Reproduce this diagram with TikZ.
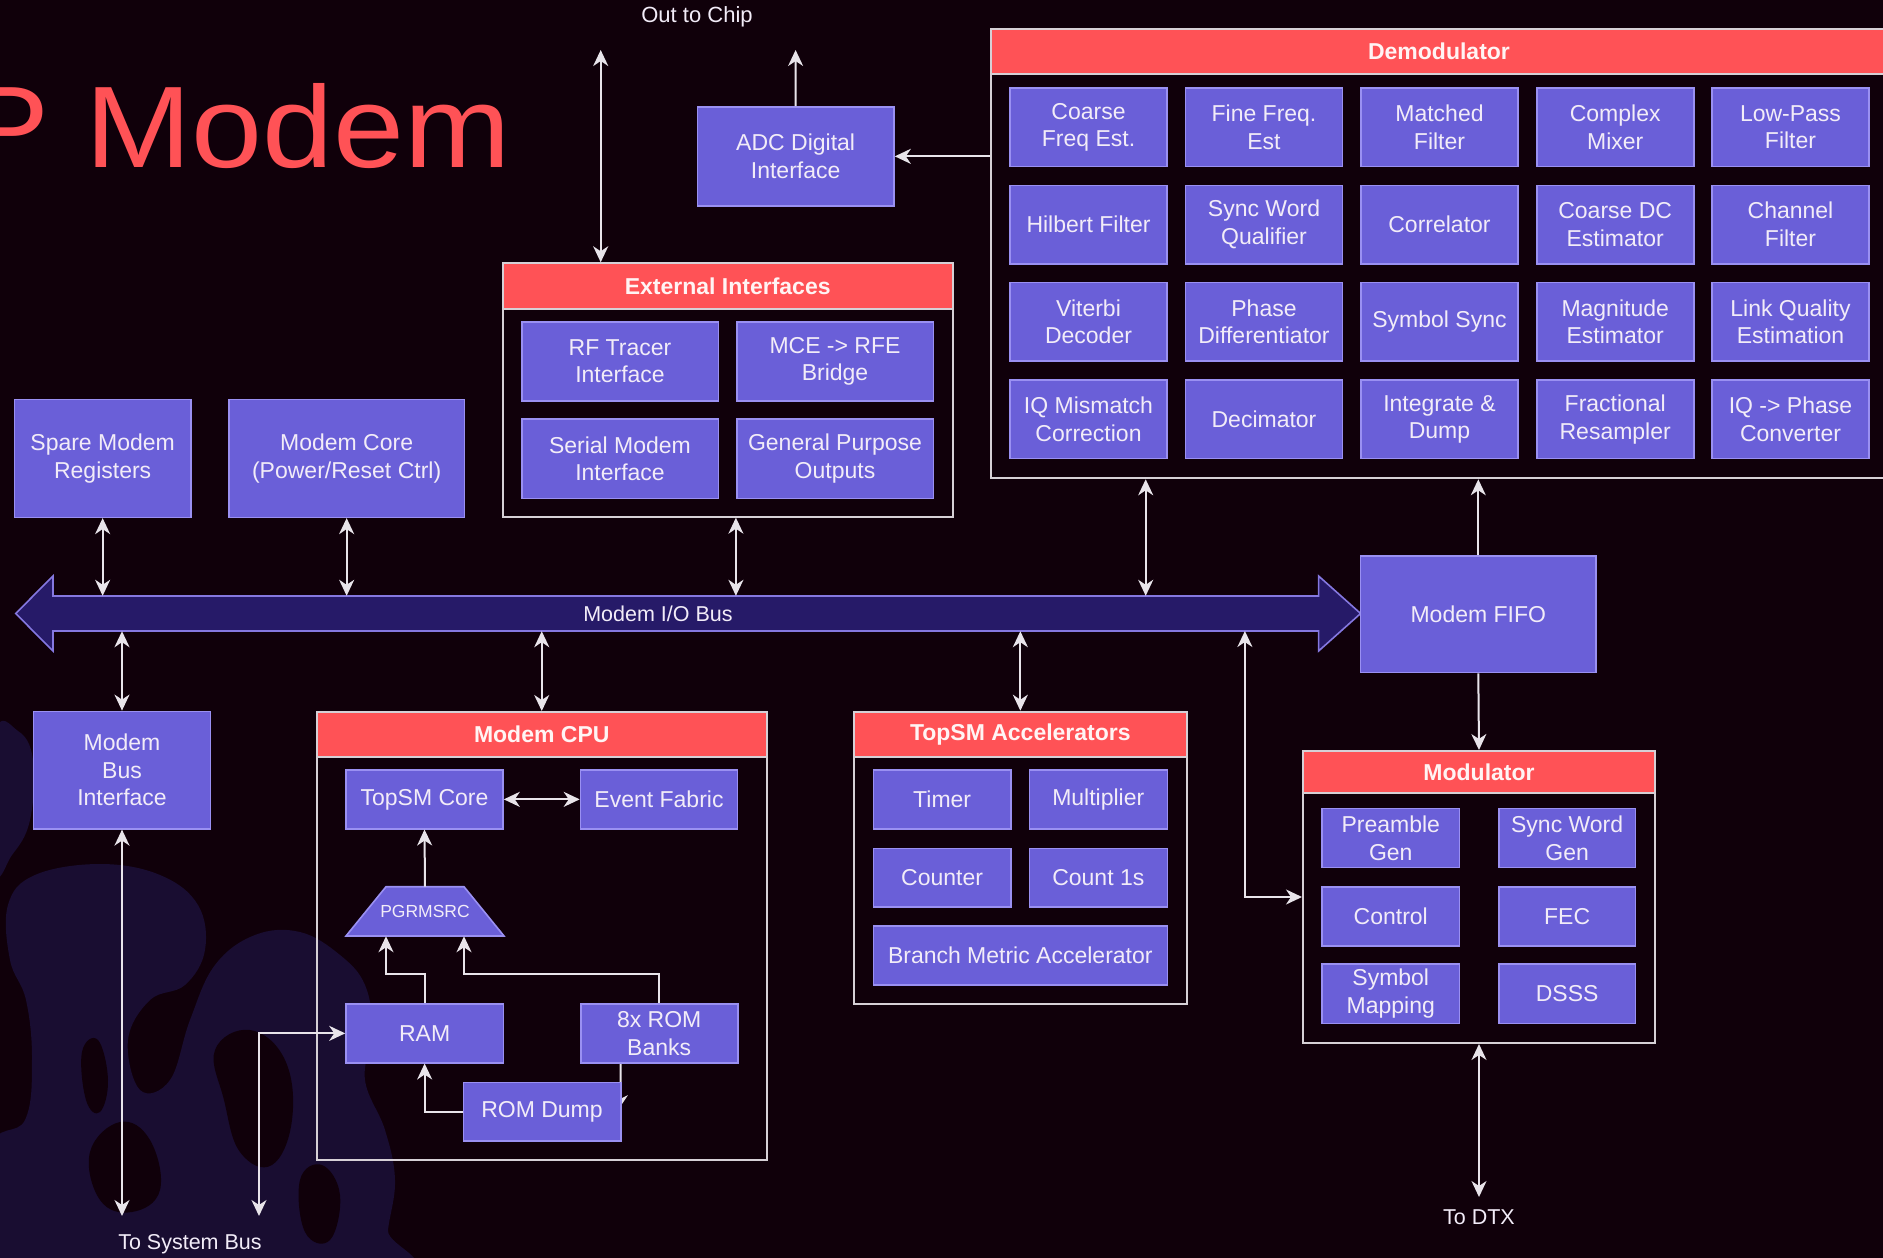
\documentclass[tikz,border=0pt]{standalone}
\usepackage{fontspec}
\setmainfont{Liberation Sans}
\usetikzlibrary{arrows.meta,calc}

\definecolor{bgc}{HTML}{10000A}
\definecolor{blobc}{HTML}{190D31}
\definecolor{boxfill}{HTML}{6A5FD8}
\definecolor{boxline}{HTML}{9A90F2}
\definecolor{txt}{HTML}{F2ECF8}
\definecolor{hdrtxt}{HTML}{FFF4F4}
\definecolor{redc}{HTML}{FF5256}
\definecolor{contline}{HTML}{D6D0D6}
\definecolor{linec}{HTML}{E8E4EA}
\definecolor{busfill}{HTML}{261A68}
\definecolor{busline}{HTML}{8578E0}

\newcommand\bfnt{\fontsize{23}{27.6}\selectfont}
\newcommand\hfnt{\fontsize{23}{27.6}\selectfont\bfseries}
\newcommand\lfnt{\fontsize{21.5}{26}\selectfont}
\newcommand\sfnt{\fontsize{17.5}{21}\selectfont}

% block given by its corners: name, x1, y1, x2, y2, text
\newcommand\blk[6]{\node[blk,minimum width={#4-#2},minimum height={#5-#3}] (#1) at ({(#2+#4)/2},{(#3+#5)/2}) {#6};}
% titled container: name, x1, y1, x2, y2, header bottom, title
\newcommand\cont[7]{%
  \node[contbox,minimum width={#4-#2},minimum height={#5-#3}] (#1) at ({(#2+#4)/2},{(#3+#5)/2}) {};%
  \node[hdr,minimum width={#4-#2},minimum height={#6-#3}] (#1h) at ({(#2+#4)/2},{(#3+#6)/2}) {#7};}

\pgfdeclarelayer{back}
\pgfdeclarelayer{under}
\pgfsetlayers{back,under,main}

\tikzset{
  blk/.style={draw=boxline, fill=boxfill, line width=1.6pt, text=txt, align=center, font=\bfnt, inner sep=0pt},
  contbox/.style={draw=contline, line width=2pt, inner sep=0pt},
  hdr/.style={draw=contline, fill=redc, line width=2pt, text=hdrtxt, font=\hfnt, inner sep=0pt},
  lbl/.style={text=txt, font=\lfnt, inner sep=0pt},
  conn/.style={draw=linec, line width=2pt},
  wtip/.tip={Stealth[length=16pt,width=15pt,inset=5pt]},
  arr/.style={conn,-wtip},
  biarr/.style={conn,wtip-wtip},
}

\begin{document}
\begin{tikzpicture}[x=1pt,y=-1pt]
\useasboundingbox (0,0) rectangle (1883,1258);
\begin{pgfonlayer}{back}
  \clip (0,0) rectangle (1883,1258);
  \fill[bgc] (0,0) rectangle (1883,1258);
  % soft organic shapes behind the lower left corner
  \fill[blobc] plot[smooth cycle,tension=0.7] coordinates {(-5,735) (18,731) (33,760) (30,820) (12,855) (-5,868)};
  \fill[blobc] plot[smooth cycle,tension=0.65] coordinates {(8,905) (35,875) (100,864) (160,875) (198,905) (205,950) (185,985) (150,1000) (128,1040) (140,1090) (170,1080) (190,1020) (215,965) (255,935) (300,932) (340,955) (365,985) (372,1030) (365,1080) (385,1130) (395,1180) (388,1230) (384,1275) (-10,1275) (-10,1150) (25,1120) (32,1060) (26,1000) (10,960)};
  \fill[bgc] plot[smooth cycle,tension=0.7] coordinates {(215,1050) (250,1030) (285,1060) (292,1120) (272,1165) (240,1152) (224,1100)};
  \fill[bgc] plot[smooth cycle,tension=0.7] coordinates {(90,1152) (120,1122) (150,1140) (160,1190) (132,1212) (100,1200)};
  \fill[bgc] plot[smooth cycle,tension=0.7] coordinates {(82,1052) (98,1040) (108,1080) (100,1112) (86,1100)};
  \fill[bgc] plot[smooth cycle,tension=0.7] coordinates {(300,1180) (322,1165) (340,1195) (330,1240) (305,1232)};
\end{pgfonlayer}
\clip (0,0) rectangle (1883,1258);

% title
\node[text=redc, font=\fontsize{116}{120}\selectfont, inner sep=0pt, anchor=base east, xscale=1.1, transform shape] (title) at (511,167.7) {P Modem};

% free ends of the outer connectors
\node[lbl, font=\fontsize{22}{26}\selectfont] (chip) at (697,17.3) {Out to Chip};
\coordinate (chipL) at (600.7,50);
\coordinate (chipR) at (795.6,50);
\node[lbl] (sysbus) at (190,1244.5) {To System Bus};
\coordinate (sysA) at (122,1216);
\coordinate (sysB) at (259,1216);
\node[lbl] (dtxl) at (1479,1216.7) {To DTX};
\coordinate (dtx) at (1479,1197);

% ADC
\blk{adc}{697.3}{107}{894}{205.7}{ADC Digital\\Interface}

% demodulator
\cont{demod}{991}{29.3}{1887}{478.3}{74}{Demodulator}
\blk{d11}{1010}{88}{1167}{166.5}{Coarse\\Freq Est.}
\blk{d12}{1185.5}{88}{1342.5}{166.5}{Fine Freq.\\Est}
\blk{d13}{1361}{88}{1518}{166.5}{Matched\\Filter}
\blk{d14}{1536.7}{88}{1693.7}{166.5}{Complex\\Mixer}
\blk{d15}{1712}{88}{1869}{166.5}{Low-Pass\\Filter}
\blk{d21}{1010}{185.3}{1167}{263.8}{Hilbert Filter}
\blk{d22}{1185.5}{185.3}{1342.5}{263.8}{Sync Word\\Qualifier}
\blk{d23}{1361}{185.3}{1518}{263.8}{Correlator}
\blk{d24}{1536.7}{185.3}{1693.7}{263.8}{Coarse DC\\Estimator}
\blk{d25}{1712}{185.3}{1869}{263.8}{Channel\\Filter}
\blk{d31}{1010}{282.6}{1167}{361.1}{Viterbi\\Decoder}
\blk{d32}{1185.5}{282.6}{1342.5}{361.1}{Phase\\Differentiator}
\blk{d33}{1361}{282.6}{1518}{361.1}{Symbol Sync}
\blk{d34}{1536.7}{282.6}{1693.7}{361.1}{Magnitude\\Estimator}
\blk{d35}{1712}{282.6}{1869}{361.1}{Link Quality\\Estimation}
\blk{d41}{1010}{380}{1167}{458.5}{IQ Mismatch\\Correction}
\blk{d42}{1185.5}{380}{1342.5}{458.5}{Decimator}
\blk{d43}{1361}{380}{1518}{458.5}{Integrate \&\\Dump}
\blk{d44}{1536.7}{380}{1693.7}{458.5}{Fractional\\Resampler}
\blk{d45}{1712}{380}{1869}{458.5}{IQ -> Phase\\Converter}

% external interfaces
\cont{extif}{502.7}{263.3}{952.7}{516.7}{309}{External Interfaces}
\blk{rft}{521.7}{321.7}{718.3}{400.7}{RF Tracer\\Interface}
\blk{mce}{736.7}{321.7}{933.3}{400.7}{MCE -> RFE\\Bridge}
\blk{smi}{521.7}{419}{718.3}{498.3}{Serial Modem\\Interface}
\blk{gpo}{736.7}{419}{933.3}{498.3}{General Purpose\\Outputs}

% register blocks
\blk{spare}{14.3}{399.3}{191}{517.3}{Spare Modem\\Registers}
\blk{core}{229}{399.3}{464.3}{517.3}{Modem Core\\(Power/Reset Ctrl)}

% I/O bus
\filldraw[fill=busfill, draw=busline, line width=1.6pt]
  (15.7,613.5) -- (53,576) -- (53,596) -- (1318.6,596) -- (1318.6,576) -- (1360.6,613.5)
  -- (1318.6,651) -- (1318.6,631) -- (53,631) -- (53,651) -- cycle;
\node[inner sep=0pt, minimum width=1265.6, minimum height=35] (bus) at (685.8,613.5) {};
\node[lbl] (busl) at (658,613.5) {Modem I/O Bus};

\blk{fifo}{1360.6}{556}{1596}{672.5}{Modem FIFO}
\blk{mbi}{33.5}{711.4}{210.5}{828.8}{Modem\\Bus\\Interface}

% modem CPU
\cont{cpu}{317}{712}{766.5}{1160}{756.6}{Modem CPU}
\blk{topsm}{346}{770}{503}{828.7}{TopSM Core}
\blk{fabric}{580.5}{770}{737.5}{828.7}{Event Fabric}
\fill[boxfill, draw=boxline, line width=1.6pt] (346,936) -- (504,936) -- (464,886.7) -- (386,886.7) -- cycle;
\node[text=txt, font=\sfnt, inner sep=0pt, minimum width=158, minimum height=49.3] (pgrm) at (425,911.4) {PGRMSRC};
\blk{ram}{346}{1004}{503.3}{1062.7}{RAM}
\blk{rombk}{580.7}{1004}{737.7}{1062.7}{8x ROM\\Banks}
\begin{pgfonlayer}{under}
  \draw[arr] (rombk.south -| 620.7,0) -- (620.7,1092) -- (618,1110);
\end{pgfonlayer}
\blk{romdump}{463.3}{1082.3}{620.7}{1140.7}{ROM Dump}

% TopSM accelerators
\cont{tsa}{854}{711.7}{1186.7}{1004}{756.7}{TopSM Accelerators}
\blk{timer}{873.3}{770}{1011}{829}{Timer}
\blk{mult}{1029.3}{770}{1167.3}{829}{Multiplier}
\blk{counter}{873.3}{848.3}{1011}{906.7}{Counter}
\blk{count1}{1029.3}{848.3}{1167.3}{906.7}{Count 1s}
\blk{bma}{873.3}{926}{1167.3}{985}{Branch Metric Accelerator}

% modulator
\cont{mod}{1303}{751}{1655}{1043}{793}{Modulator}
\blk{pre}{1322}{808.5}{1459.5}{867.5}{Preamble\\Gen}
\blk{swg}{1498.7}{808.5}{1635.6}{867.5}{Sync Word\\Gen}
\blk{ctrl}{1322}{886.7}{1459.5}{946}{Control}
\blk{fec}{1498.7}{886.7}{1635.6}{946}{FEC}
\blk{symm}{1322}{964}{1459.5}{1023.5}{Symbol\\Mapping}
\blk{dsss}{1498.7}{964}{1635.6}{1023.5}{DSSS}

% connectors
\draw[biarr] (chipL) -- (chipL |- extif.north);
\draw[arr] (adc.north) -- (chipR);
\draw[arr] (demod.west |- adc.east) -- (adc.east);
\draw[biarr] (spare.south) -- (spare.south |- bus.north);
\draw[biarr] (core.south) -- (core.south |- bus.north);
\draw[biarr] (mce.south west |- extif.south) -- (mce.south west |- bus.north);
\coordinate (demtap) at ($(demod.south west)+(155.7,0)$);
\draw[biarr] (demtap) -- (demtap |- bus.north);
\draw[arr] (fifo.north) -- (fifo.north |- demod.south);
\draw[arr] (fifo.south) -- (mod.north);
\draw[biarr] (mbi.north) -- (mbi.north |- bus.south);
\draw[biarr] (cpu.north) -- (cpu.north |- bus.south);
\draw[biarr] (tsa.north) -- (tsa.north |- bus.south);
\coordinate (modtap) at (1244.9,631);
\draw[biarr] (modtap) |- (mod.west);
\draw[biarr] (mod.south) -- (dtx);
\draw[biarr] (mbi.south) -- (sysA);
\draw[biarr] (sysB) |- (ram.west);
\draw[biarr] (topsm.east) -- (fabric.west);
\draw[arr] (pgrm.north) -- (topsm.south);
\draw[arr] (ram.north) -- ++(0,-29.5) -| ($(pgrm.south)+(-39,0)$);
\draw[arr] (rombk.north) -- ++(0,-29.5) -| ($(pgrm.south)+(39,0)$);
\draw[arr] (romdump.west) -| (ram.south);
\end{tikzpicture}
\end{document}
